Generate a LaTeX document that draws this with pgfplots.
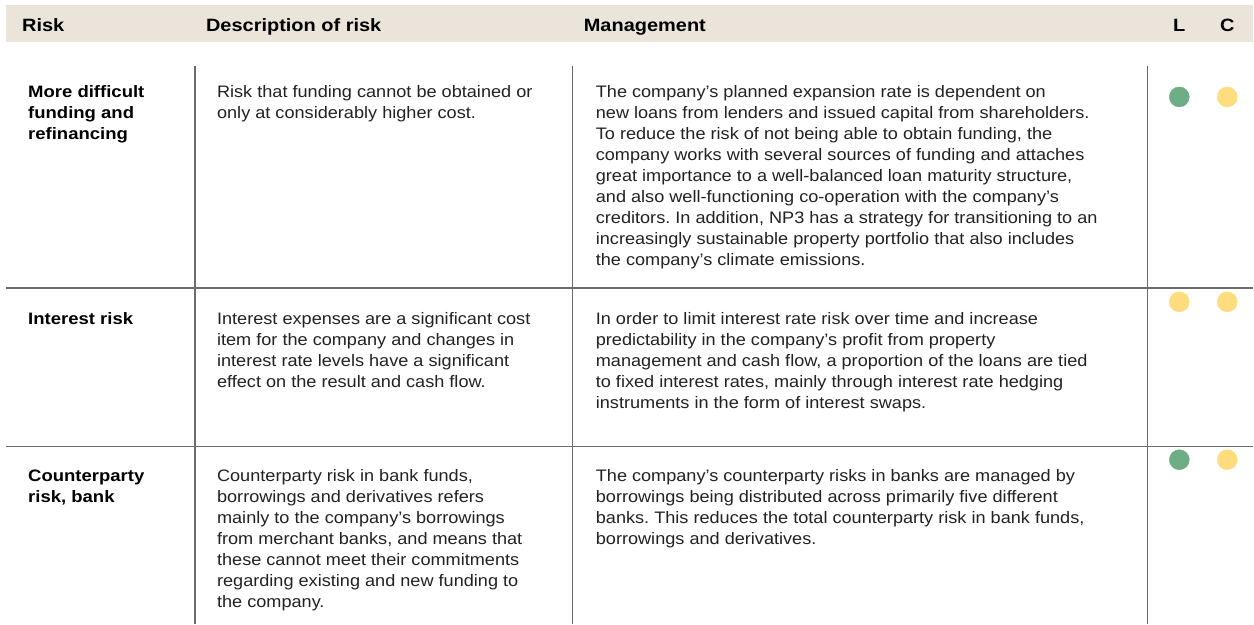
\documentclass[border=0pt]{standalone}
\usepackage{fontspec}
\setmainfont{Liberation Sans}[FakeStretch=1.09,BoldFeatures={FakeStretch=1.12}]
\usepackage{pgfplots}
\pgfplotsset{compat=1.18}
\definecolor{hdr}{HTML}{EAE4DB}
\definecolor{gr}{HTML}{6FAE84}
\definecolor{ye}{HTML}{FFDC7E}
\definecolor{rulec}{HTML}{6B6B6B}
\definecolor{txt}{HTML}{222222}
\newcommand{\cell}[1]{\begin{tabular}[t]{@{}l@{}}#1\end{tabular}}
\frenchspacing
\begin{document}
\frenchspacing
\begin{tikzpicture}
\begin{axis}[width=1254bp,height=624bp,scale only axis,
  xmin=0,xmax=1254,ymin=0,ymax=624,y dir=reverse,hide axis,clip=false]
\fill[white] (axis cs:0,0) rectangle (axis cs:1254,624);
\fill[hdr] (axis cs:6,5) rectangle (axis cs:1254,42);
\tikzset{hd/.style={font=\fontsize{17.9}{21}\selectfont\bfseries,inner sep=0,text=black},
         bd/.style={font=\fontsize{16.7}{21}\selectfont\frenchspacing,inner sep=0,text=txt,anchor=base west},
         rk/.style={font=\fontsize{16.6}{21}\selectfont\bfseries,inner sep=0,text=black,anchor=base west}}
% header
\node[hd,anchor=base west] at (axis cs:22,31.5) {Risk};
\node[hd,anchor=base west] at (axis cs:206,31.5) {Description of risk};
\node[hd,anchor=base west] at (axis cs:584,31.5) {Management};
\node[hd,anchor=base] at (axis cs:1180,31.5) {L};
\node[hd,anchor=base] at (axis cs:1228,31.5) {C};
% rules
\draw[rulec,line width=1.5bp] (axis cs:195,66) -- (axis cs:195,624);
\draw[rulec,line width=1.5bp] (axis cs:573,66) -- (axis cs:573,624);
\draw[rulec,line width=1.5bp] (axis cs:1148,66) -- (axis cs:1148,624);
\draw[rulec,line width=1.5bp] (axis cs:6,288) -- (axis cs:1254,288);
\draw[rulec,line width=1.5bp] (axis cs:6,447) -- (axis cs:1254,447);
% row 1
\node[rk] at (axis cs:28,98) {\cell{More difficult\\funding and\\refinancing}};
\node[bd] at (axis cs:217,98) {\cell{Risk that funding cannot be obtained or\\only at considerably higher cost.}};
\node[bd] at (axis cs:596,98) {\cell{The company’s planned expansion rate is dependent on\\
new loans from lenders and issued capital from shareholders.\\
To reduce the risk of not being able to obtain funding, the\\
company works with several sources of funding and attaches\\
great importance to a well-balanced loan maturity structure,\\
and also well-functioning co-operation with the company's\\
creditors. In addition, NP3 has a strategy for transitioning to an\\
increasingly sustainable property portfolio that also includes\\
the company's climate emissions.}};
% row 2
\node[rk] at (axis cs:28,325) {\cell{Interest risk}};
\node[bd] at (axis cs:217,325) {\cell{Interest expenses are a significant cost\\
item for the company and changes in\\
interest rate levels have a significant\\
effect on the result and cash flow.}};
\node[bd] at (axis cs:596,325) {\cell{In order to limit interest rate risk over time and increase\\
predictability in the company’s profit from property\\
management and cash flow, a proportion of the loans are tied\\
to fixed interest rates, mainly through interest rate hedging\\
instruments in the form of interest swaps.}};
% row 3
\node[rk] at (axis cs:28,482) {\cell{Counterparty\\risk, bank}};
\node[bd] at (axis cs:217,482) {\cell{Counterparty risk in bank funds,\\
borrowings and derivatives refers\\
mainly to the company’s borrowings\\
from merchant banks, and means that\\
these cannot meet their commitments\\
regarding existing and new funding to\\
the company.}};
\node[bd] at (axis cs:596,482) {\cell{The company’s counterparty risks in banks are managed by\\
borrowings being distributed across primarily five different\\
banks. This reduces the total counterparty risk in bank funds,\\
borrowings and derivatives.}};
% ratings (L and C)
\addplot[only marks,mark=*,mark size=10bp,gr,mark options={draw=gr,fill=gr}] coordinates {(1180,97) (1180,460)};
\addplot[only marks,mark=*,mark size=10bp,ye,mark options={draw=ye,fill=ye}] coordinates {(1228,97) (1180,302) (1228,302) (1228,460)};
\end{axis}
\end{tikzpicture}
\end{document}
